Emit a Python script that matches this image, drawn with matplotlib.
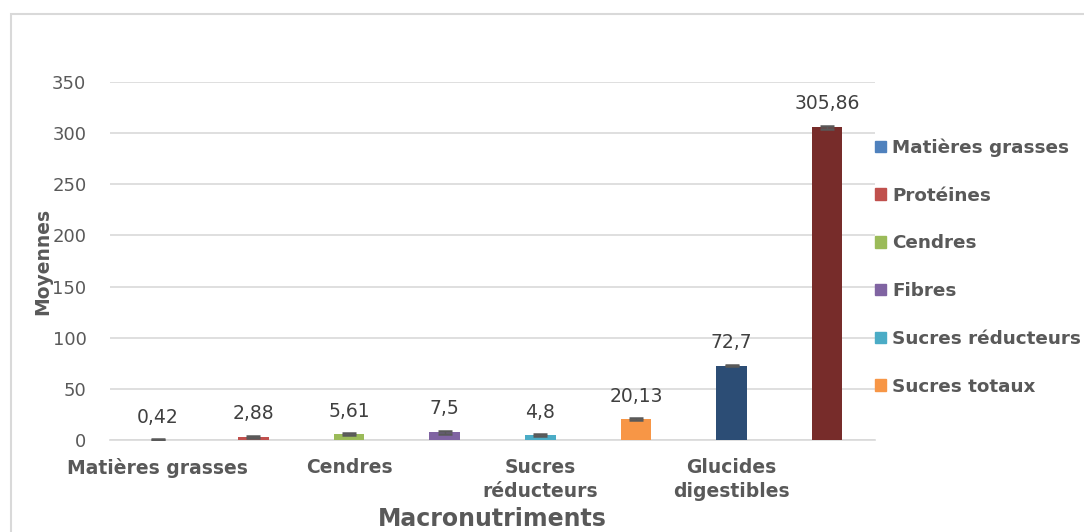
import numpy as np
import matplotlib.pyplot as plt
from matplotlib.patches import Rectangle

# Moyennes des macronutriments
categories = ['Matières grasses', 'Protéines', 'Cendres', 'Fibres',
              'Sucres réducteurs', 'Sucres totaux', 'Glucides digestibles',
              'Valeur énergétique']
moyennes = [0.42, 2.88, 5.61, 7.5, 4.8, 20.13, 72.7, 305.86]
ecarts = [0.3, 1.2, 1.1, 1.3, 1.0, 1.0, 0.8, 1.5]
value_labels = ['0,42', '2,88', '5,61', '7,5', '4,8', '20,13', '72,7', '305,86']
tick_labels = ['Matières grasses', '', 'Cendres', '', 'Sucres\nréducteurs', '',
               'Glucides\ndigestibles', '']
legend_entries = categories[:6]

colors = ['#4F81BD', '#C0504D', '#9BBB59', '#8064A2', '#4BACC6', '#F79646',
          '#2C4D75', '#772C2A']
grey = '#595959'

plt.rcParams['font.family'] = 'DejaVu Sans'

fig = plt.figure(figsize=(10.84, 5.32), dpi=100)
ax = fig.add_axes([110 / 1084, 1 - 440 / 532, 765 / 1084, 358 / 532])

# cadre du graphique
fig.patches.append(Rectangle((11 / 1084, -0.1), 1.2, 1.1 - 14 / 532,
                             transform=fig.transFigure, fill=False,
                             edgecolor='#D9D9D9', linewidth=1.5))

x = np.arange(len(categories))
bars = ax.bar(x, moyennes, width=0.32, color=colors, zorder=3)
ax.errorbar(x, moyennes, yerr=ecarts, fmt='none', ecolor=grey,
            elinewidth=1, capsize=5, capthick=1.8, zorder=4)

for xi, v, e, lab in zip(x, moyennes, ecarts, value_labels):
    ax.annotate(lab, (xi, v + e), xytext=(0, 9), textcoords='offset points',
                ha='center', va='bottom', fontsize=13.5, color='#404040')

ax.set_xlim(-0.5, len(categories) - 0.5)
ax.set_ylim(0, 350)
ax.set_yticks(np.arange(0, 351, 50))
ax.yaxis.grid(True, color='#D9D9D9', linewidth=1.2, zorder=0)
ax.set_axisbelow(True)
for s in ['top', 'right', 'left']:
    ax.spines[s].set_visible(False)
ax.spines['bottom'].set_color('#D9D9D9')
ax.spines['bottom'].set_linewidth(1.2)
ax.tick_params(axis='both', length=0, colors=grey, labelsize=13)
ax.tick_params(axis='y', pad=17)
ax.tick_params(axis='x', pad=13)
ax.set_xticks(x)
ax.set_xticklabels(tick_labels, fontweight='bold', fontsize=13.5,
                   linespacing=1.35)

ax.set_ylabel('Moyennes', fontsize=13.5, fontweight='bold', color=grey,
              labelpad=0)
ax.set_xlabel('Macronutriments', fontsize=17, fontweight='bold', color=grey,
              labelpad=4)

handles = [Rectangle((0, 0), 1, 1, color=c) for c in colors[:6]]
leg = fig.legend(handles, legend_entries, loc='upper left',
                 bbox_to_anchor=(858 / 1084, 1 - 122 / 532), frameon=False,
                 handlelength=0.6, handleheight=0.6, handletextpad=0.35,
                 labelspacing=1.62, prop={'weight': 'bold', 'size': 13.2})
for t in leg.get_texts():
    t.set_color(grey)

fig.savefig('out.png', dpi=100)
